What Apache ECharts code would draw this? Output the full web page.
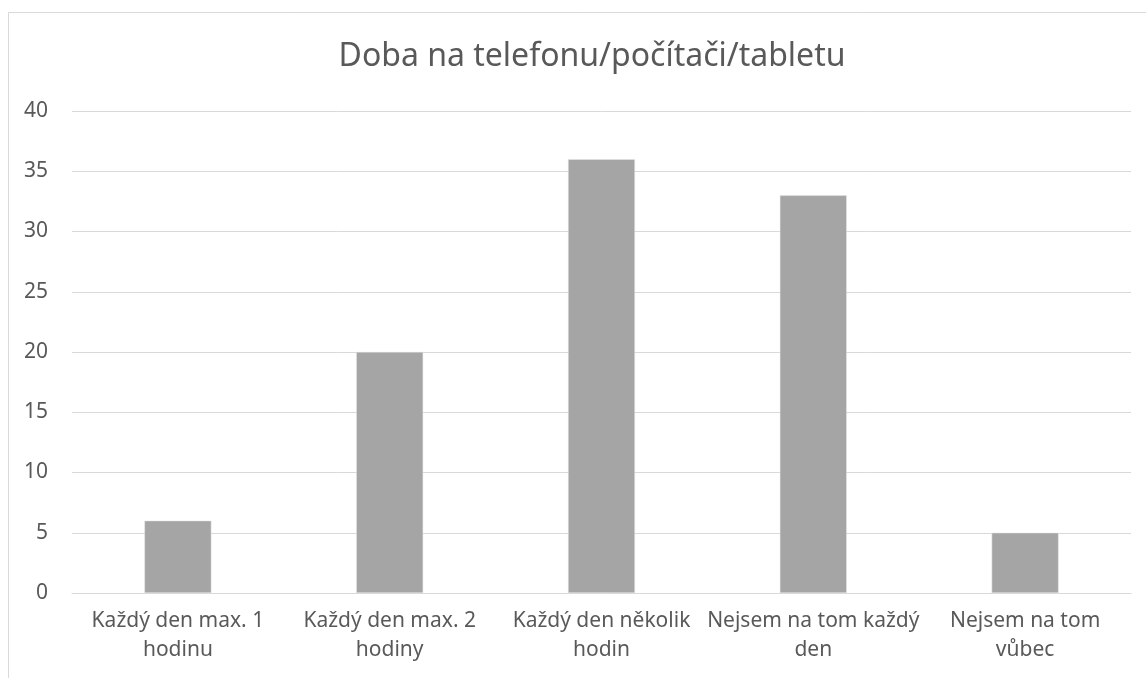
<!DOCTYPE html>
<html>
<head>
<meta charset="utf-8">
<style>
  html, body { margin: 0; padding: 0; background: #fff; }
  #chart { width: 1146px; height: 678px; }
</style>
<script src="https://cdn.jsdelivr.net/npm/echarts@6/dist/echarts.min.js"></script>
</head>
<body>
<div id="chart"></div>
<script>
// data
const categories = [
    'Každý den max. 1\nhodinu',
    'Každý den max. 2\nhodiny',
    'Každý den několik\nhodin',
    'Nejsem na tom každý\nden',
    'Nejsem na tom\nvůbec'
]
const values = [6, 20, 36, 33, 5]
const titleText = 'Doba na telefonu/počítači/tabletu'

const textColor = '#595959'
const fontFamily = 'Noto Sans, Open Sans, sans-serif'

const myChart = echarts.init(document.getElementById('chart'))
myChart.setOption({
    animation: false,
    backgroundColor: '#fff',
    title: {
        text: titleText,
        left: 587,
        top: 36,
        textAlign: 'center',
        textStyle: {
            color: textColor,
            fontSize: 32,
            fontWeight: 'normal',
            fontFamily: fontFamily
        }
    },
    // chart frame (only left/top visible in the crop)
    graphic: [{
        type: 'rect',
        shape: { x: 8.5, y: 12.5, width: 1200, height: 700 },
        style: { fill: 'none', stroke: '#d9d9d9', lineWidth: 1 },
        silent: true
    }],
    grid: {
        left: 72,
        right: 15,
        top: 111,
        bottom: 85,
        containLabel: false
    },
    xAxis: {
        type: 'category',
        data: categories,
        axisLine: { show: true, lineStyle: { color: '#d9d9d9', width: 1 } },
        axisTick: { show: false },
        axisLabel: {
            color: textColor,
            fontSize: 21,
            fontFamily: fontFamily,
            lineHeight: 29,
            margin: 14,
            interval: 0
        }
    },
    yAxis: {
        type: 'value',
        min: 0,
        max: 40,
        interval: 5,
        axisLine: { show: false },
        axisTick: { show: false },
        splitLine: { lineStyle: { color: '#d9d9d9', width: 1 } },
        axisLabel: {
            color: textColor,
            fontSize: 21,
            fontFamily: fontFamily,
            margin: 24
        }
    },
    series: [{
        type: 'bar',
        data: values,
        barWidth: '31.6%',
        itemStyle: {
            color: '#a5a5a5',
            borderColor: '#e6e6e6',
            borderWidth: 0.5
        }
    }]
})
</script>
</body>
</html>
